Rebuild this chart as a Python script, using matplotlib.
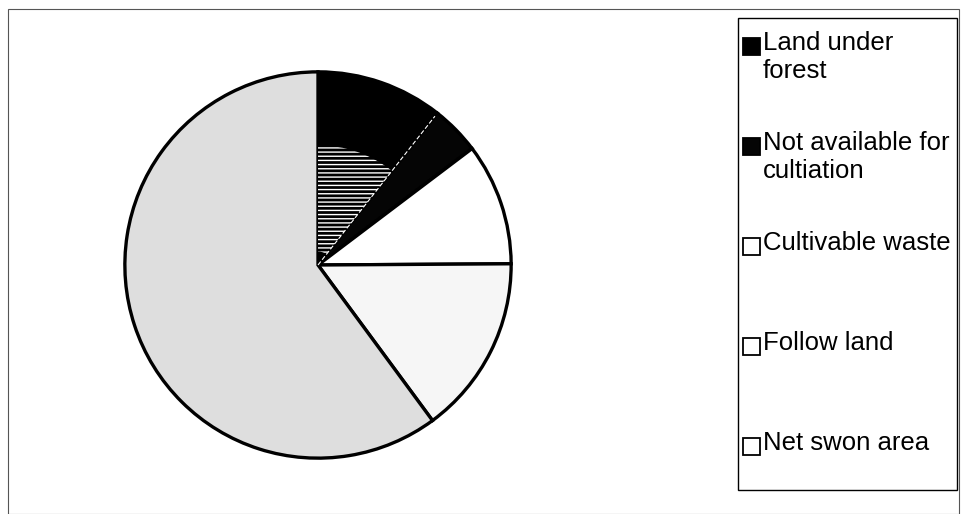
import matplotlib.pyplot as plt
from matplotlib.patches import Rectangle, Wedge
import numpy as np

# Land use shares (percent)
labels = ["Land under\nforest", "Not available for\ncultiation", "Cultivable waste",
          "Follow land", "Net swon area"]
values = [10.6, 4.1, 10.2, 15.0, 60.1]
colors = ["#000000", "#050505", "#ffffff", "#f6f6f6", "#dedede"]

W, H = 961, 514
fig = plt.figure(figsize=(W / 100, H / 100), dpi=100)
plt.rcParams['font.family'] = ['Liberation Sans', 'DejaVu Sans']

# outer frame
fig.add_artist(Rectangle((8 / W, 0), (W - 10) / W, (H - 9) / H, transform=fig.transFigure,
                         fill=False, edgecolor="#555555", lw=0.8))

# pie
cx, cy, r = 318, 265, 197
ax = fig.add_axes([(cx - r) / W, (H - cy - r) / H, 2 * r / W, 2 * r / H])
wedges, _ = ax.pie(values, colors=colors, startangle=90, counterclock=False,
                   wedgeprops=dict(edgecolor="black", linewidth=2.4))
ax.set_xlim(-1.02, 1.02)
ax.set_ylim(-1.02, 1.02)
ax.set_aspect("equal")

# horizontal hatching near centre of the forest slice, white dashed edge between the dark slices
b = 90 - 360 * values[0] / sum(values)
ax.add_patch(Wedge((0, 0), 0.62, b, 90, width=0.55, facecolor="none", edgecolor="white",
                   hatch="----", lw=0))
t = np.deg2rad(b)
ax.plot([0, 0.98 * np.cos(t)], [0, 0.98 * np.sin(t)], color="white", lw=0.8, ls=(0, (4, 2)))

# legend box drawn by hand
lx0, ly0, lx1, ly1 = 738, 18, 957, 490
fig.add_artist(Rectangle((lx0 / W, 1 - ly1 / H), (lx1 - lx0) / W, (ly1 - ly0) / H,
                         transform=fig.transFigure, fill=False, edgecolor="black", lw=1.0))
for i, (lab, c) in enumerate(zip(labels, colors)):
    y = 46 + 100 * i
    fc = c if i < 2 else "white"
    fig.add_artist(Rectangle((743 / W, 1 - (y + 9) / H), 17 / W, 17 / H, transform=fig.transFigure,
                             facecolor=fc, edgecolor="black", lw=1.3))
    fig.text(763 / W, 1 - (y - 15) / H, lab, fontsize=18.5, va="top", ha="left",
             linespacing=1.2)

fig.savefig("out.png", dpi=100)
